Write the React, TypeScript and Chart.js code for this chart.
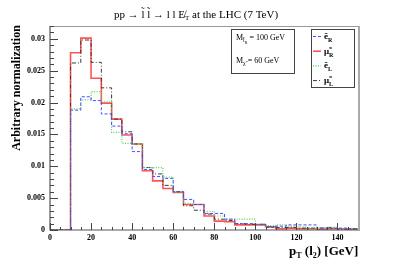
import React, { useEffect, useRef } from "react";
import { Chart, registerables } from "chart.js";

Chart.register(...registerables);

const binLow = [0, 5, 10, 15, 20, 25, 30, 35, 40, 45, 50, 55, 60, 65, 70, 75, 80, 85, 90, 95, 100, 105, 110, 115, 120, 125, 130, 135, 140, 145];
const binEnd = 150;

const eR = [0, 0, 0.0188, 0.0209, 0.0203, 0.0182, 0.0163, 0.0151, 0.0123, 0.0095, 0.0084, 0.0081, 0.0060, 0.0048, 0.0040, 0.0026, 0.0026, 0.0017, 0.0010, 0.0010, 0.0009, 0.0004, 0.0006, 0.0008, 0.0008, 0.0008, 0.0003, 0.0002, 0.0003, 0.0002];
const muR = [0, 0, 0.0278, 0.0301, 0.0238, 0.0199, 0.0174, 0.0149, 0.0135, 0.0093, 0.0077, 0.0065, 0.0059, 0.0040, 0.0040, 0.0022, 0.0014, 0.0013, 0.0008, 0.0008, 0.0008, 0.0005, 0.0002, 0.0003, 0.0002, 0.0002, 0.0001, 0.0002, 0.0002, 0.0001];
const eL = [0, 0, 0.0190, 0.0204, 0.0217, 0.0201, 0.0153, 0.0136, 0.0135, 0.0098, 0.0098, 0.0083, 0.0059, 0.0042, 0.0040, 0.0029, 0.0022, 0.0017, 0.0017, 0.0017, 0.0008, 0.0007, 0.0008, 0.0006, 0.0005, 0.0003, 0.0003, 0.0004, 0.0002, 0.0002];
const muL = [0, 0, 0.0262, 0.0298, 0.0263, 0.0223, 0.0174, 0.0154, 0.0135, 0.0098, 0.0088, 0.0070, 0.0060, 0.0038, 0.0031, 0.0025, 0.0017, 0.0015, 0.0010, 0.0009, 0.0009, 0.0005, 0.0004, 0.0004, 0.0003, 0.0003, 0.0003, 0.0004, 0.0001, 0.0002];

const xMin = 0;
const xMax = 150;
const yMin = 0;
const yMax = 0.032;
const xTickStep = 20;
const yTickStep = 0.005;

const SERIF = '"Liberation Serif", "DejaVu Serif", serif';

function toPoints(vals: number[]) {
  const pts = binLow.map((x, i) => ({ x, y: vals[i] }));
  pts.push({ x: binEnd, y: vals[vals.length - 1] });
  return pts;
}

const series = [
  { label: "ẽR", sub: "R", base: "ẽ", data: eR, color: "#4a4aff", dash: [3, 2], width: 1 },
  { label: "μ̃R", sub: "R", base: "μ̃", data: muR, color: "rgba(255,40,40,0.8)", dash: [], width: 1.6 },
  { label: "ẽL", sub: "L", base: "ẽ", data: eL, color: "#5ccc5c", dash: [1, 1.5], width: 1.2 },
  { label: "μ̃L", sub: "L", base: "μ̃", data: muL, color: "#3a3a3a", dash: [4, 2, 1, 2], width: 1 },
];

const decorPlugin = {
  id: "decor",
  afterDatasetsDraw(chart: any) {
    const ctx = chart.ctx as CanvasRenderingContext2D;
    const { left, right, top, bottom } = chart.chartArea;
    const xs = chart.scales.x;
    const ys = chart.scales.y;
    ctx.save();

    // frame
    ctx.strokeStyle = "#999";
    ctx.lineWidth = 1;
    ctx.beginPath();
    ctx.moveTo(left, top + 0.5);
    ctx.lineTo(right, top + 0.5);
    ctx.stroke();
    ctx.lineWidth = 2;
    ctx.strokeStyle = "#aaa";
    ctx.beginPath();
    ctx.moveTo(right + 1, top);
    ctx.lineTo(right + 1, bottom + 1);
    ctx.stroke();

    ctx.strokeStyle = "#555";
    ctx.lineWidth = 1.2;
    ctx.beginPath();
    ctx.moveTo(left, top);
    ctx.lineTo(left, bottom);
    ctx.lineTo(right, bottom);
    ctx.stroke();

    // ticks inside
    ctx.lineWidth = 1;
    ctx.strokeStyle = "#444";
    for (let v = xMin; v <= xMax - 0.001; v += 5) {
      const px = Math.round(xs.getPixelForValue(v)) + 0.5;
      const major = Math.abs(v % xTickStep) < 1e-6;
      const len = major ? 7 : 3;
      ctx.beginPath();
      ctx.moveTo(px, bottom);
      ctx.lineTo(px, bottom - len);
      ctx.stroke();
    }
    for (let i = 0; i * 0.001 <= yMax + 1e-9; i++) {
      const v = i * 0.001;
      const py = Math.round(ys.getPixelForValue(v)) + 0.5;
      const major = i % 5 === 0;
      const len = major ? 8 : 4;
      ctx.beginPath();
      ctx.moveTo(left, py);
      ctx.lineTo(left + len, py);
      ctx.stroke();
    }

    // title
    ctx.fillStyle = "#000";
    ctx.textBaseline = "alphabetic";
    const titleParts: [string, number, number][] = [
      ["pp → l̃ l̃ → l l E̸", 11, 0],
      ["T", 7, 2],
      [" at the LHC (7 TeV)", 11, 0],
    ];
    let tw = 0;
    for (const [t, s] of titleParts) {
      ctx.font = `${s}px ${SERIF}`;
      tw += ctx.measureText(t).width;
    }
    let tx = 196 - tw / 2;
    for (const [t, s, dy] of titleParts) {
      ctx.font = `${s}px ${SERIF}`;
      ctx.fillText(t, tx, 18 + dy);
      tx += ctx.measureText(t).width;
    }

    // axis titles
    ctx.font = `bold 12px ${SERIF}`;
    ctx.save();
    ctx.translate(20, 88);
    ctx.rotate(-Math.PI / 2);
    ctx.textAlign = "center";
    ctx.fillText("Arbitrary normalization", 0, 0);
    ctx.restore();

    ctx.textAlign = "left";
    const xt: [string, number, number][] = [
      ["p", 13, 0],
      ["T", 8, 3],
      [" (l", 13, 0],
      ["2", 8, 3],
      [") [GeV]", 13, 0],
    ];
    let xx = 289;
    for (const [t, s, dy] of xt) {
      ctx.font = `bold ${s}px ${SERIF}`;
      ctx.fillText(t, xx, 255 + dy);
      xx += ctx.measureText(t).width;
    }

    // info box
    ctx.fillStyle = "#fff";
    ctx.fillRect(231, 29, 64, 45);
    ctx.strokeStyle = "#444";
    ctx.lineWidth = 1;
    ctx.strokeRect(231.5, 29.5, 63, 44);
    ctx.fillStyle = "#000";
    const drawRich = (parts: [string, number, number][], x: number, y: number) => {
      let cx = x;
      for (const [t, s, dy] of parts) {
        ctx.font = `${s}px ${SERIF}`;
        ctx.fillText(t, cx, y + dy);
        cx += ctx.measureText(t).width;
      }
    };
    drawRich([["M", 8, 0], ["l̃", 6, 2], ["R", 4, 4], [" = 100 GeV", 8, 0]], 236, 40);
    drawRich([["M", 8, 0], ["χ̃", 6, 2], [" = 60 GeV", 8, 0]], 236, 63);

    // legend
    ctx.fillStyle = "#fff";
    ctx.fillRect(311, 29, 44, 59);
    ctx.strokeStyle = "#444";
    ctx.strokeRect(311.5, 29.5, 43, 58);
    series.forEach((s, i) => {
      const y = 36 + i * 14.7;
      ctx.strokeStyle = s.color;
      ctx.lineWidth = s.width;
      ctx.setLineDash(s.dash);
      ctx.beginPath();
      ctx.moveTo(313, y + 0.5);
      ctx.lineTo(321, y + 0.5);
      ctx.stroke();
      ctx.setLineDash([]);
      ctx.fillStyle = "#000";
      ctx.font = `bold 9px ${SERIF}`;
      ctx.fillText(s.base, 324, y + 3);
      const w = ctx.measureText(s.base).width;
      ctx.font = `bold 6px ${SERIF}`;
      ctx.fillText(s.sub, 324 + w, y + 6);
    });

    ctx.restore();
  },
};

export default function App() {
  const ref = useRef<HTMLCanvasElement | null>(null);
  useEffect(() => {
    if (!ref.current) return;
    const chart = new Chart(ref.current, {
      type: "line",
      data: {
        datasets: series.map((s, i) => ({
          label: s.label,
          data: toPoints(s.data),
          borderColor: s.color,
          borderWidth: s.width,
          borderDash: s.dash,
          stepped: "before" as const,
          pointRadius: 0,
          fill: false,
          order: i === 1 ? 4 : i,
        })),
      },
      options: {
        animation: false,
        responsive: false,
        devicePixelRatio: 1,
        layout: { padding: { top: 26, right: 41, left: 0, bottom: 0 } },
        plugins: { legend: { display: false }, tooltip: { enabled: false }, title: { display: false } },
        scales: {
          x: {
            type: "linear",
            min: xMin,
            max: xMax,
            grid: { display: false, drawTicks: false },
            border: { display: false },
            ticks: {
              stepSize: xTickStep,
              includeBounds: false,
              maxRotation: 0,
              autoSkip: false,
              padding: 3,
              color: "#000",
              font: { family: SERIF, size: 8, weight: "bold" },
            },
            afterFit: (scale: any) => {
              scale.height = 40;
            },
          },
          y: {
            type: "linear",
            min: yMin,
            max: yMax,
            grid: { display: false, drawTicks: false },
            border: { display: false },
            ticks: {
              stepSize: yTickStep,
              includeBounds: false,
              padding: 5,
              color: "#000",
              font: { family: SERIF, size: 8, weight: "bold" },
              callback: (v: any) => String(parseFloat(Number(v).toFixed(3))),
            },
            afterFit: (scale: any) => {
              scale.width = 50;
            },
          },
        },
      },
      plugins: [decorPlugin],
    });
    return () => chart.destroy();
  }, []);
  return (
    <div style={{ position: "fixed", left: 0, top: 0, width: 399, height: 270, background: "#fff" }}>
      <canvas ref={ref} width={399} height={270} style={{ width: 399, height: 270 }} />
    </div>
  );
}
